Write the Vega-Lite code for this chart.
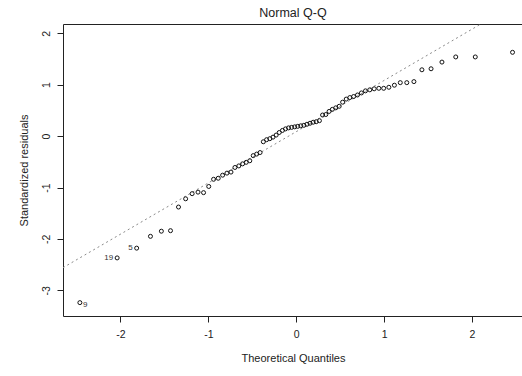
{
  "$schema": "https://vega.github.io/schema/vega-lite/v6.json",
  "autosize": {"type": "none"},
  "padding": {"left": 63, "top": 24, "right": 0, "bottom": 60},
  "width": 460,
  "height": 292,
  "background": "white",
  "view": {"stroke": "#222", "strokeWidth": 1},
  "title": {"text": "Normal Q-Q", "font": "Liberation Sans", "fontSize": 12.5, "fontWeight": "normal", "color": "#222", "anchor": "middle", "frame": "group", "offset": 5},
  "datasets": {
    "pts": [
      {"q": -2.461, "r": -3.24, "id": "9"},
      {"q": -2.037, "r": -2.37, "id": "19"},
      {"q": -1.815, "r": -2.18, "id": "5"},
      {"q": -1.658, "r": -1.95, "id": ""},
      {"q": -1.534, "r": -1.85, "id": ""},
      {"q": -1.430, "r": -1.84, "id": ""},
      {"q": -1.339, "r": -1.38, "id": ""},
      {"q": -1.258, "r": -1.22, "id": ""},
      {"q": -1.184, "r": -1.12, "id": ""},
      {"q": -1.117, "r": -1.09, "id": ""},
      {"q": -1.054, "r": -1.10, "id": ""},
      {"q": -0.995, "r": -0.98, "id": ""},
      {"q": -0.940, "r": -0.84, "id": ""},
      {"q": -0.887, "r": -0.82, "id": ""},
      {"q": -0.837, "r": -0.76, "id": ""},
      {"q": -0.788, "r": -0.72, "id": ""},
      {"q": -0.742, "r": -0.70, "id": ""},
      {"q": -0.697, "r": -0.61, "id": ""},
      {"q": -0.653, "r": -0.58, "id": ""},
      {"q": -0.610, "r": -0.54, "id": ""},
      {"q": -0.569, "r": -0.51, "id": ""},
      {"q": -0.528, "r": -0.48, "id": ""},
      {"q": -0.489, "r": -0.38, "id": ""},
      {"q": -0.450, "r": -0.35, "id": ""},
      {"q": -0.411, "r": -0.32, "id": ""},
      {"q": -0.374, "r": -0.11, "id": ""},
      {"q": -0.337, "r": -0.07, "id": ""},
      {"q": -0.300, "r": -0.05, "id": ""},
      {"q": -0.264, "r": -0.02, "id": ""},
      {"q": -0.228, "r": 0.02, "id": ""},
      {"q": -0.193, "r": 0.07, "id": ""},
      {"q": -0.157, "r": 0.11, "id": ""},
      {"q": -0.122, "r": 0.14, "id": ""},
      {"q": -0.087, "r": 0.16, "id": ""},
      {"q": -0.052, "r": 0.17, "id": ""},
      {"q": -0.017, "r": 0.18, "id": ""},
      {"q": 0.017, "r": 0.19, "id": ""},
      {"q": 0.052, "r": 0.20, "id": ""},
      {"q": 0.087, "r": 0.21, "id": ""},
      {"q": 0.122, "r": 0.23, "id": ""},
      {"q": 0.157, "r": 0.25, "id": ""},
      {"q": 0.193, "r": 0.27, "id": ""},
      {"q": 0.228, "r": 0.28, "id": ""},
      {"q": 0.264, "r": 0.30, "id": ""},
      {"q": 0.300, "r": 0.41, "id": ""},
      {"q": 0.337, "r": 0.42, "id": ""},
      {"q": 0.374, "r": 0.48, "id": ""},
      {"q": 0.411, "r": 0.52, "id": ""},
      {"q": 0.450, "r": 0.55, "id": ""},
      {"q": 0.489, "r": 0.58, "id": ""},
      {"q": 0.528, "r": 0.66, "id": ""},
      {"q": 0.569, "r": 0.72, "id": ""},
      {"q": 0.610, "r": 0.75, "id": ""},
      {"q": 0.653, "r": 0.77, "id": ""},
      {"q": 0.697, "r": 0.80, "id": ""},
      {"q": 0.742, "r": 0.84, "id": ""},
      {"q": 0.788, "r": 0.88, "id": ""},
      {"q": 0.837, "r": 0.90, "id": ""},
      {"q": 0.887, "r": 0.92, "id": ""},
      {"q": 0.940, "r": 0.93, "id": ""},
      {"q": 0.995, "r": 0.93, "id": ""},
      {"q": 1.054, "r": 0.95, "id": ""},
      {"q": 1.117, "r": 0.99, "id": ""},
      {"q": 1.184, "r": 1.04, "id": ""},
      {"q": 1.258, "r": 1.04, "id": ""},
      {"q": 1.339, "r": 1.06, "id": ""},
      {"q": 1.430, "r": 1.29, "id": ""},
      {"q": 1.534, "r": 1.31, "id": ""},
      {"q": 1.658, "r": 1.44, "id": ""},
      {"q": 1.815, "r": 1.54, "id": ""},
      {"q": 2.037, "r": 1.54, "id": ""},
      {"q": 2.461, "r": 1.63, "id": ""}
    ],
    "ref": [
      {"q": -2.653, "r": -2.56},
      {"q": 2.10, "r": 2.18}
    ]
  },
  "encoding": {
    "x": {
      "field": "q", "type": "quantitative",
      "scale": {"domain": [-2.653, 2.58], "nice": false, "zero": false},
      "axis": {
        "title": "Theoretical Quantiles", "values": [-2, -1, 0, 1, 2],
        "labelExpr": "datum.value < 0 ? '-' + abs(datum.value) : '' + datum.value",
        "grid": false, "domain": false, "tickSize": 6, "tickColor": "#222", "tickWidth": 1,
        "labelFont": "Liberation Sans", "labelFontSize": 10.5, "labelColor": "#222", "labelPadding": 7,
        "titleFont": "Liberation Sans", "titleFontSize": 11, "titleFontWeight": "normal", "titleColor": "#222", "titlePadding": 13
      }
    },
    "y": {
      "field": "r", "type": "quantitative",
      "scale": {"domain": [-3.5, 2.181], "nice": false, "zero": false},
      "axis": {
        "title": "Standardized residuals", "values": [-3, -2, -1, 0, 1, 2],
        "labelExpr": "datum.value < 0 ? '-' + abs(datum.value) : '' + datum.value",
        "grid": false, "domain": false, "tickSize": 6, "tickColor": "#222", "tickWidth": 1,
        "labelAngle": -90, "labelAlign": "center", "labelBaseline": "bottom",
        "labelFont": "Liberation Sans", "labelFontSize": 10.5, "labelColor": "#222", "labelPadding": 6,
        "titleFont": "Liberation Sans", "titleFontSize": 11, "titleFontWeight": "normal", "titleColor": "#222", "titlePadding": 12
      }
    }
  },
  "layer": [
    {
      "data": {"name": "ref"},
      "mark": {"type": "line", "stroke": "#8a8a8a", "strokeWidth": 1, "strokeDash": [2, 3], "clip": true},
      "encoding": {}
    },
    {
      "data": {"name": "pts"},
      "mark": {"type": "point", "shape": "circle", "filled": false, "stroke": "#111", "strokeWidth": 1, "size": 16, "opacity": 1}
    },
    {
      "data": {"name": "pts"},
      "transform": [{"filter": "datum.id != '' && datum.id != '9'"}],
      "mark": {"type": "text", "align": "right", "baseline": "middle", "dx": -4, "font": "Liberation Sans", "fontSize": 8, "color": "#333"},
      "encoding": {"text": {"field": "id"}}
    },
    {
      "data": {"name": "pts"},
      "transform": [{"filter": "datum.id == '9'"}],
      "mark": {"type": "text", "align": "left", "baseline": "middle", "dx": 3, "dy": 2, "font": "Liberation Sans", "fontSize": 8, "color": "#333"},
      "encoding": {"text": {"field": "id"}}
    }
  ]
}
